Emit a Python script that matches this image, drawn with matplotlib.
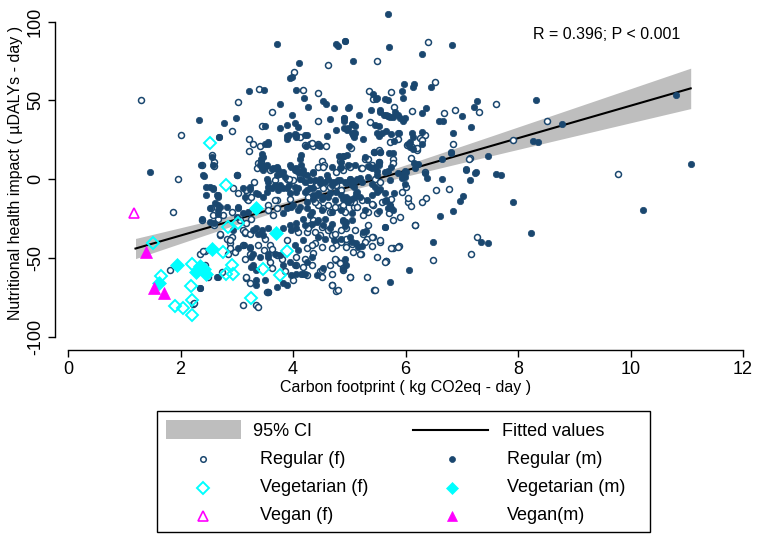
import numpy as np
import matplotlib
matplotlib.use("Agg")
import matplotlib.pyplot as plt
from matplotlib.patches import Rectangle
from matplotlib.lines import Line2D

plt.rcParams['font.family'] = ['Liberation Sans', 'DejaVu Sans']
plt.rcParams['axes.unicode_minus'] = False

NAVY = '#1a476f'
CYAN = '#00ffff'
MAGENTA = '#ff00ff'
CI_GREY = '#bebebe'

# ---- data ----
# regular diet, female (open circles)
reg_f = np.array([
    (1.30, 50.2), (2.0, 28), (1.95, -0.2), (2.56, 15.3), (2.59, 11), (2.59, 8.5), (2.38, 8.7),
    (2.92, 30.5), (3.02, 48.9), (3.01, 2.5), (3.39, 57.4), (3.62, 42.6), (4.02, 68.2), (4.62, 72.2),
    (4.18, 56.7), (4.45, 54.6), (3.44, 33.9), (4.45, 36.8), (3.22, 25.8), (3.29, 22.2), (3.42, 21),
    (4.13, 26.9), (4.3, 22.2), (4.36, 21), (4.59, 21.2), (3.22, 18), (4.51, 11.6), (3.37, 10.2),
    (4.45, 7.9), (4.55, 8.7), (5.0, 8.2),
    (6.40, 86.8), (5.49, 75.3), (6.52, 61.8), (5.35, 56.1), (5.75, 55.2), (5.43, 51), (7.6, 47.4),
    (7.31, 42.5), (6.88, 44.2), (6.68, 42.3), (6.11, 43.4), (5.8, 45.9), (5.37, 36.4), (6.25, 26.3),
    (6.35, 28.2), (6.3, 25), (5.03, 19.9), (6.21, 18.8), (6.85, 22.2), (7.91, 24.6), (8.52, 37),
    (5.55, 17.2), (5.78, 13.1), (5.28, 13), (5.01, 8.5), (7.14, 13.4), (6.35, 4.3), (5.21, 6.8),
    (9.77, 3.2), (7.13, 13.1), (5.69, 40),
    (6.05, -14.4), (6.09, -17.1), (5.71, -21.4), (5.77, -26), (6.16, -29.2), (6.78, -6.3),
    (6.54, -7), (6.36, -11.8), (7.27, -37), (7.17, -47.2), (6.49, -51.4), (5.88, -42.5),
    (5.77, -44), (5.65, -51.8), (5.55, -40.2), (5.43, -36.6), (5.41, -42.7), (5.31, -37.7),
    (5.25, -34.5), (5.33, -28.8), (5.1, -32), (4.95, -31.3), (4.83, -39.5), (4.95, -39.5),
    (5.04, -41), (5.21, -47.4), (5.49, -49.3), (5.66, -51.8), (4.91, -53.1), (4.89, -57.8),
    (5.02, -62), (5.31, -62), (5.44, -70.5), (5.22, -13.3), (5.08, -17.5), (5.09, -14.5),
    (5.43, -16.5), (5.49, -21.2), (5.34, -20.7), (5.25, -22.8), (4.88, -18.6), (4.83, -17.5),
    (5.45, 0), (5.54, -1.7),
    (1.86, -20.7), (2.55, -18.6), (2.67, -25), (2.6, -29.2), (3.18, -12.3), (3.19, -8),
    (3.03, -9.1), (2.94, -5.9), (2.76, -22.8), (2.91, -20.7), (3.26, -25), (3.17, -28.1),
    (3.11, -32.4), (2.70, -35.5), (2.82, -37.7), (2.91, -36.6), (2.88, -40.8), (3.38, -41.9),
    (3.48, -45.1), (3.59, -41.9), (3.71, -48.2), (3.80, -50.4), (3.59, -52.5), (3.62, -56.7),
    (4.06, -54.2), (4.18, -55.6), (2.73, -58.8), (2.43, -54.6), (2.34, -47.8), (2.43, -45.7),
    (2.88, -44), (2.97, -46.1), (3.16, -63), (3.23, -66.2), (3.56, -71.5), (3.11, -80),
    (3.35, -80), (2.22, -79), (1.81, -57.8), (1.96, -54.2), (4.0, -64.1), (4.24, -61),
    (4.69, -67.3), (4.77, -71.1), (4.48, -58.4), (4.66, -54.6), (4.77, -51.4), (4.86, -53.5),
    (4.77, -41.9), (4.95, -37.7), (4.86, -32.4), (4.48, -35.5), (4.69, -35.5), (4.39, -40.8),
    (4.24, -44), (4.09, -33.4), (4.24, -33.4), (4.3, -29.2), (4.36, -26), (3.71, -13.3),
    (3.94, -12.3), (3.56, -16.5), (3.65, -22.8), (3.59, 5.7), (3.68, -0.6), (3.89, 0.4),
    (4.0, -0.6), (4.18, 0.4), (4.3, -2.7), (4.77, 4.7), (4.89, 5.7), (4.42, -3.8), (4.54, -5.9),
    (4.66, -4.9), (4.77, -3.8), (4.86, -7), (4.83, -18.6), (4.92, -20.7), (4.66, -20.7),
    (4.54, -18.6), (4.45, -16.5),
    (2.38, -26), (2.40, -45.7), (2.24, -78.9), (2.48, -62), (3.38, -81), (3.17, -62),
    (3.53, -71.5), (3.14, -34.1), (2.58, -22.8), (2.70, -34.5),
    # centre of the cloud
    (4.22, 21.6), (4.34, 22.7), (4.45, 22.0), (5.44, 17.4), (5.53, 18.4), (5.33, 12.7),
    (6.02, 21.6), (6.11, 20.1), (6.2, 19.5), (5.72, 23.7), (5.87, 25.8), (4.83, 11.4),
    (3.43, 11), (3.36, 6.8), (3.71, 7.2), (3.92, 0.4), (4.12, 1.5), (4.24, 0.4), (4.54, 7.8),
    (5.01, 7.8), (5.22, 6.8), (5.4, 8.9), (5.52, 11), (5.78, 10.5), (6.1, 13.5),
    (4.27, -11.2), (4.39, -14.4), (4.63, -16.5), (4.75, -17.6), (4.89, -16.5), (5.01, -14.4),
    (5.13, -17.6), (5.4, -15.5), (5.58, -14.4), (5.75, -12.3), (5.93, -8), (6.05, -12.0),
    (6.29, -14.4), (3.17, -7), (3.2, -13.3), (3.26, -11.2), (3.68, -13.3), (3.71, -18.6),
    (3.56, -19.7), (3.14, -33.4), (3.23, -34.5), (4.27, -31.3), (4.39, -33.4), (4.51, -30.3),
    (4.63, -32.4), (4.75, -34.5), (4.33, -41.9), (4.51, -43), (4.69, -44), (4.86, -39.8),
    (4.95, -43), (5.07, -46.1), (5.19, -47.2), (5.28, -39.8), (5.4, -36.6), (5.55, -38.7),
    (5.75, -44), (5.87, -43), (6.17, -29.2), (4.06, -49.3), (4.21, -50.4), (4.33, -54.6),
    (4.51, -57.8), (4.75, -50.4), (4.83, -53.5), (4.89, -56.7), (4.69, -59.9), (5.01, -62),
    (4.69, -67.3), (4.8, -70.5), (5.46, -70.5), (4.51, -62), (5.63, -52.5), (2.88, -38.7),
    (2.85, -47.2), (3.11, -41.9), (3.14, -50.4), (3.23, -47.2), (3.5, -38), (3.62, -44.5),
    (3.9, -38.5), (3.85, -58), (4.35, -47), (5.9, -24), (6.0, -5), (3.3, -2), (3.05, -26),
])

# regular diet, male (filled circles)
reg_m = np.array([
    (1.45, 4.7), (2.33, 37.5), (2.68, 26.9), (2.56, 14.2), (2.41, 2.1), (2.77, 35.4), (2.98, 39),
    (3.22, 55.9), (3.49, 56.3), (3.72, 85.9), (3.77, 47.8), (3.95, 64.1), (3.99, 65), (4.11, 73.9),
    (4.06, 56.3), (4.19, 51.6), (4.27, 45.7), (4.54, 49.5), (4.59, 47.4), (4.73, 44.9), (3.99, 40.6),
    (3.51, 33.5), (3.77, 32.4), (3.89, 34.1), (4.03, 35.4), (4.08, 32.8), (4.66, 37.9), (4.76, 31.5),
    (4.91, 38.5), (4.91, 32.2), (4.98, 45), (4.98, 32.5), (2.69, 26.7), (3.89, 27.3), (3.90, 25.2),
    (4.05, 27.9), (4.24, 27.9), (4.61, 27.7), (3.50, 22.2), (3.56, 22.2), (4.23, 21), (4.48, 21.2),
    (4.99, 21), (4.14, 15.3), (4.82, 15), (4.89, 15), (4.85, 10.6), (3.44, 15.9), (3.47, 13.8),
    (3.5, 8.5), (3.62, 6.4), (3.71, 7.9), (3.97, 7.9), (4.03, 5.8), (4.09, 4.7), (4.18, 3.6),
    (4.36, 4.2), (4.69, 7.9), (4.86, 7.9), (4.77, 86.1), (4.80, 84.4), (4.93, 87.8),
    (5.69, 104.8), (4.92, 87.8), (5.70, 83.8), (6.82, 85.3), (6.29, 79.6), (5.07, 74.7),
    (6.45, 58.2), (5.98, 60.3), (5.93, 56.1), (6.15, 60.7), (6.14, 58.6), (5.43, 53.8), (5.47, 51),
    (5.63, 51), (5.68, 50.2), (5.95, 51.2), (7.27, 49.5), (7.22, 45.5), (8.32, 50.2), (7.0, 40),
    (6.36, 45.3), (6.3, 42.3), (5.0, 45.5), (5.38, 43.8), (5.55, 42.5), (5.61, 40.5), (5.72, 39.2),
    (5.78, 39.6), (5.90, 38.5), (5.96, 37.2), (5.18, 40.6), (4.9, 38.5), (4.9, 37), (5.04, 35),
    (5.10, 34), (4.96, 31.1), (5.46, 34.3), (5.52, 33.7), (6.6, 37), (6.67, 37), (7.16, 32.8),
    (5.65, 30.5), (5.74, 28.6), (5.89, 29), (5.08, 29), (5.08, 26.9), (5.52, 27.7), (6.84, 29.4),
    (6.13, 26.5), (5.79, 24.1), (6.29, 22.4), (6.05, 22.2), (6.08, 20.5), (6.14, 19.3),
    (8.26, 24.1), (8.36, 23.7), (5.44, 17.2), (5.55, 17.2), (5.70, 16.3), (5.78, 16.7),
    (5.28, 13.8), (5.52, 11), (5.52, 8.9), (5.34, 8.5), (4.9, 15), (4.96, 15.2), (6.15, 10.4),
    (6.81, 17.2), (7.47, 15), (6.64, 12.5), (7.08, 6.2), (7.25, 4.3), (5.99, 5.3), (5.37, 7.9),
    (5.46, 7.9), (5.69, 5.0), (8.78, 34.9), (10.81, 53.3), (11.07, 9.5), (7.61, 3.2), (7.7, 2.5),
    (7.15, -0.6), (6.64, 0), (6.8, 16.7),
    (5.99, -3.2), (5.80, -9.1), (5.64, -13.8), (5.72, -17.1), (5.78, -19.3), (5.64, -30.3),
    (6.62, -23.5), (6.85, -20.1), (7.03, -10.8), (6.97, -14), (7.91, -14.4), (10.22, -19.7),
    (8.23, -34.1), (7.34, -40), (7.47, -40.8), (6.49, -40), (6.07, -57.8), (5.72, -65),
    (7.07, 5.9), (7.24, 4.2), (6.35, 4.2), (6.38, 0.8), (5.96, 3), (5.93, 0.8), (5.72, -0.6),
    (5.66, -13.3), (5.72, -16.3), (5.75, -18.4), (5.22, -42.7), (5.12, -40.6), (5.01, -36.6),
    (5.24, -33.4), (5.30, -32.6), (4.95, -27), (4.89, -26), (4.92, -30), (4.92, -50.4),
    (5.1, -11.2), (5.04, -12.3), (5.12, -9.1), (4.94, -11.2), (5.46, -4.9), (5.55, -6), (5.5, -8),
    (5.4, -2.8), (5.19, 0.8), (5.01, 0.4), (5.04, -2.8), (5.1, -1.3), (5.08, -4.9),
    (2.40, 2.5), (2.58, 8.9), (2.37, 8.9), (2.52, -4.9), (2.57, -6.3), (2.67, -11.2),
    (2.64, -10.2), (2.67, -16.1), (2.66, -19.7), (2.39, -25.4), (3.01, 2.5), (3.11, -5.9),
    (3.23, -4.9), (3.35, -9.1), (3.47, -11.2), (3.53, -8), (3.03, -18.6), (3.11, -21.8),
    (3.29, -32.4), (3.13, -41.9), (3.23, -43), (3.29, -47.2), (3.41, -49.3), (3.56, -47.2),
    (3.83, -54.6), (3.94, -52.5), (3.29, -54.6), (2.64, -62), (3.35, -64.1), (3.5, -64.1),
    (2.34, -69), (3.89, -67.3), (3.71, -68.3), (4.42, -61), (4.54, -56.7), (4.18, -59.9),
    (4.24, -52.5), (4.33, -49.3), (4.95, -54.6), (4.89, -57.1), (4.66, -31.3), (4.54, -29.2),
    (4.42, -27.1), (4.09, -45.1), (4.18, -38.7), (4.03, -41.9), (3.94, -29.2), (4.06, -28.1),
    (4.18, -25), (4.3, -22.8), (3.83, -21.8), (3.89, -18.6), (4.0, -16.5), (4.12, -17.6),
    (4.24, -14.4), (4.36, -12.3), (4.42, -10.2), (4.54, -11.2), (4.66, -9.1), (4.77, -8),
    (3.53, 8.9), (3.65, 6.8), (3.71, 2.5), (3.83, 4.7), (3.94, 8.9), (4.06, 5.7), (4.12, 0.4),
    (4.24, 2.5), (4.36, 4.7), (4.48, 0.4), (4.6, 2.5), (4.69, -1.7), (4.83, -0.6), (4.95, -2.7),
    (5.01, 0.4), (3.41, 8.9), (3.47, 5.7), (3.77, -3.8), (3.89, -5.9), (3.94, -9.1), (4.06, -8),
    (4.24, -7), (4.36, -5.9), (4.89, -12.3), (4.98, -14.4),
    (2.46, -4.9), (2.58, -5.3), (2.46, -10.2), (2.67, -10.2), (2.61, -15.4), (2.70, -17.6),
    (2.53, -18), (2.82, -17.6), (3.02, -17.6), (2.52, -27.1), (2.67, -22.2), (2.67, -62.4),
    (2.34, -68.8), (3.0, -23.9), (2.6, -28.1), (2.94, -32.4),
    # centre of the cloud
    (5.55, 43.8), (5.66, 40.6), (5.81, 42.7), (5.87, 40.6), (5.99, 38.5), (5.5, 51.2),
    (5.05, 34.7), (4.21, 28.0), (4.04, 28.4), (5.04, 29.6), (5.1, 29.6), (5.49, 29.6),
    (5.58, 29), (5.86, 29.6), (6.11, 29), (6.29, 30.1), (3.55, 23.3), (3.92, 27.9), (4.06, 26.9),
    (4.44, 21.6), (5.07, 27.9), (5.24, 25.8), (6.08, 23.7), (3.43, 12.7), (3.43, 9.9),
    (3.49, 7.8), (3.74, 5.7), (3.77, 3), (3.86, 1.5), (4.12, 4.7), (4.18, 5.7), (4.21, -1.7),
    (4.3, -0.6), (4.83, 6.8), (4.98, 8.9), (5.1, 8.9), (5.4, 6.8), (5.49, 5.1), (5.75, 7.8),
    (6.0, 4.7), (6.17, 6.8), (6.23, 9.9), (4.06, 6.8), (4.15, 8.9), (4.12, 13.1), (3.44, 6.8),
    (3.53, 0.4), (3.56, -1.7),
    (4.39, -0.6), (4.48, -2.7), (4.57, -1.7), (4.63, 0.4), (4.69, -3.8), (4.75, -1.7),
    (4.8, -0.6), (4.92, -1.7), (5.04, -3.8), (5.13, 0.4), (5.22, -1.7), (5.34, 1.5),
    (5.49, 2.5), (5.63, 4.7), (5.87, 3.6), (5.99, 1.5),
    (4.09, -5.9), (4.21, -8), (4.3, -5.9), (4.36, -10.1), (4.45, -9.1), (4.51, -12.3),
    (4.63, -11.2), (4.75, -13.3), (4.86, -10.1), (4.98, -12.3), (5.13, -8), (5.19, -11.2),
    (5.31, -13.3), (5.4, -10.1), (5.52, -7), (5.63, -9.1),
    (3.97, -17.6), (4.09, -19.7), (4.24, -18.6), (4.33, -20.7), (4.51, -19.7), (4.69, -20.7),
    (4.86, -19.7), (5.04, -21.2), (5.28, -19.7), (5.52, -20.3), (5.69, -18.6),
    (3.23, -6), (3.14, -11.2), (3.38, -9.7), (3.56, -4.9), (3.62, -5.9), (3.68, -3.8),
    (3.74, -7), (3.83, -5.9), (3.92, -3.8), (4.03, -4.9), (3.2, -20.7),
    (3.35, -31.3), (3.44, -32.4), (3.56, -31.3), (3.38, -34.5), (3.47, -35.6), (3.83, -31.3),
    (3.97, -32.4), (4.06, -31.3), (4.21, -29.2), (4.33, -28.2), (4.45, -26), (4.57, -25),
    (4.69, -28.2), (4.89, -26.7), (5.04, -26), (4.45, -36.6), (4.57, -37.7), (4.72, -38.7),
    (4.86, -37.7), (5.04, -39.8), (5.16, -43), (5.63, -30.3), (4.03, -54.6), (4.06, -59.9),
    (3.97, -61), (4.15, -59.9), (4.21, -59.9), (3.56, -49.3), (3.68, -47.2), (3.77, -48.2),
    (3.26, -55.7), (3.35, -57.8), (3.35, -67.3), (3.56, -71.5), (3.83, -66.2),
    (3.23, -44), (3.26, -49.3), (3.03, -44),
])

veg_f = np.array([
    (2.52, 23), (2.80, -3.5), (1.51, -40.5), (1.66, -61.5), (2.20, -54), (2.18, -68),
    (2.21, -76.5), (2.20, -86), (1.91, -80.5), (2.04, -81.5), (2.84, -30.5), (3.03, -28),
    (2.75, -46), (2.91, -54.5), (2.94, -60.5), (2.80, -60), (3.25, -75.5), (3.47, -57),
    (3.77, -61), (3.90, -45.5),
])
veg_m = np.array([
    (3.35, -18.5), (3.70, -34), (2.56, -44.5), (1.93, -54.5), (2.28, -59), (2.41, -57),
    (2.35, -55), (2.45, -60), (1.62, -66),
])
vegan_f = np.array([(1.18, -21.8)])
vegan_m = np.array([(1.38, -46), (1.53, -68.8), (1.71, -72)])

# linear fit and its 95% band
fit_range = (1.2, 11.07)
fit_intercept = -56.4
fit_slope = 10.3
ci_xbar = 4.4
ci_hw_center = 2.0
ci_hw_slope = 1.9

stat_text = "R = 0.396; P < 0.001"
stat_pos = (8.27, 91.5)
xlab = "Carbon footprint ( kg CO2eq - day )"
ylab = "Nutritional health impact ( \u00b5DALYs - day )"

# ---- figure ----
W, H = 765, 536
fig = plt.figure(figsize=(W / 100, H / 100), dpi=100)
ax = fig.add_axes([68 / W, (H - 336.7) / H, (743 - 68) / W, (336.7 - 9) / H])
ax.set_xlim(0, 12)
ax.set_ylim(-100, 108)

xx = np.linspace(fit_range[0], fit_range[1], 200)
yy = fit_intercept + fit_slope * xx
hw = np.sqrt(ci_hw_center ** 2 + (ci_hw_slope * (xx - ci_xbar)) ** 2)
ax.fill_between(xx, yy - hw, yy + hw, color=CI_GREY, lw=0, zorder=1)
ax.plot(xx, yy, color='black', lw=1.5, zorder=2)

ax.plot(reg_f[:, 0], reg_f[:, 1], 'o', ms=4.3, mfc='white', mec=NAVY, mew=1.1, zorder=3)
ax.plot(reg_m[:, 0], reg_m[:, 1], 'o', ms=4.6, mfc=NAVY, mec=NAVY, mew=0.5, zorder=3)
ax.plot(veg_f[:, 0], veg_f[:, 1], 'D', ms=6.5, mfc='none', mec=CYAN, mew=1.4, zorder=4)
ax.plot(veg_m[:, 0], veg_m[:, 1], 'D', ms=7, mfc=CYAN, mec=CYAN, mew=0.5, zorder=4)
ax.plot(vegan_f[:, 0], vegan_f[:, 1], '^', ms=7, mfc='none', mec=MAGENTA, mew=1.2, zorder=5)
ax.plot(vegan_m[:, 0], vegan_m[:, 1], '^', ms=8, mfc=MAGENTA, mec=MAGENTA, mew=0.5, zorder=5)

for s in ['top', 'right']:
    ax.spines[s].set_visible(False)
ax.spines['left'].set_position(('outward', 9.4))
ax.spines['bottom'].set_position(('outward', 9.6))
ax.spines['left'].set_bounds(-100, 100)
ax.spines['bottom'].set_bounds(0, 12)
ax.spines['left'].set_linewidth(1.0)
ax.spines['bottom'].set_linewidth(1.0)
ax.set_xticks(np.arange(0, 13, 2))
ax.set_yticks([-100, -50, 0, 50, 100])
ax.tick_params(axis='both', length=5, width=1.0, labelsize=13, pad=3)
for lab in ax.get_yticklabels():
    lab.set_rotation(90)
    lab.set_va('center')
ax.set_xlabel(xlab, fontsize=11.5, labelpad=1)
ax.set_ylabel(ylab, fontsize=11.5, labelpad=3)
ax.text(stat_pos[0], stat_pos[1], stat_text, fontsize=11.5, ha='left', va='center')

# ---- legend drawn in pixel space ----
lg = fig.add_axes([0, 0, 1, 1], zorder=10)
lg.set_xlim(0, W)
lg.set_ylim(H, 0)
lg.axis('off')
lg.add_patch(Rectangle((157, 411), 493, 121, fill=False, ec='black', lw=1.0))
lg.add_patch(Rectangle((166, 420), 75, 19, fc=CI_GREY, ec='none'))
lg.text(253, 431, "95% CI", fontsize=13, va='center')
lg.add_line(Line2D([413, 488], [430, 430], color='black', lw=1.5))
lg.text(502, 431, "Fitted values", fontsize=13, va='center')

rows = [
    ("Regular (f)", 'o', 4.0, 'white', NAVY, 1.1, "Regular (m)", 'o', 4.3, NAVY, NAVY, 0.5),
    ("Vegetarian (f)", 'D', 6.0, 'none', CYAN, 1.4, "Vegetarian (m)", 'D', 6.5, CYAN, CYAN, 0.5),
    ("Vegan (f)", '^', 7, 'none', MAGENTA, 1.2, "Vegan(m)", '^', 7.5, MAGENTA, MAGENTA, 0.5),
]
for i, r in enumerate(rows):
    y = 459 + i * 28.5
    lg.plot([203], [y], r[1], ms=r[2], mfc=r[3], mec=r[4], mew=r[5])
    lg.text(260, y, r[0], fontsize=13, va='center')
    lg.plot([452], [y], r[7], ms=r[8], mfc=r[9], mec=r[10], mew=r[11])
    lg.text(507, y, r[6], fontsize=13, va='center')

fig.savefig("out.png", dpi=100)
